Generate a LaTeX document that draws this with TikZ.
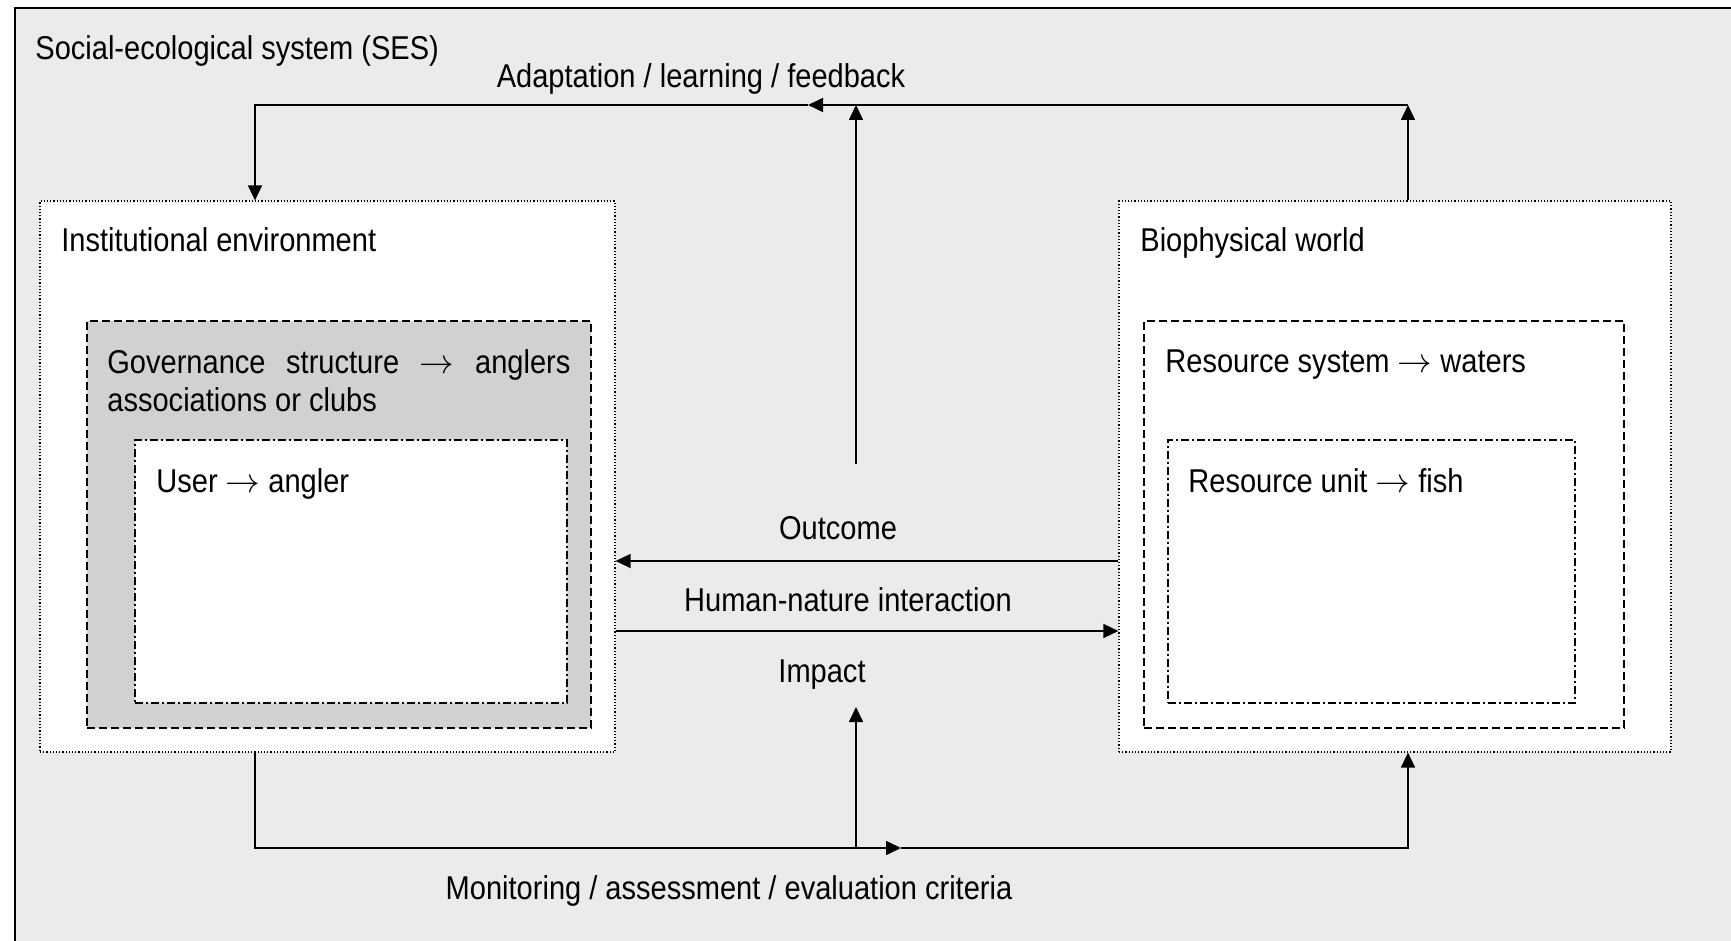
\documentclass[tikz,border=0pt]{standalone}
\usepackage{fontspec}
\setmainfont[FakeStretch=0.88]{Liberation Sans}
\usetikzlibrary{arrows.meta,fit}
\newcommand{\maps}{$\rightarrow$}
\begin{document}
\begin{tikzpicture}[x=0.5pt,y=-0.5pt,
    lbl/.style={inner sep=0pt,font=\fontsize{16.5}{19.5}\selectfont},
    ln/.style={line width=0.8pt},
    arr/.style={ln,-{Triangle[length=7.5pt,width=7pt]}},
    envbox/.style={draw,fill=white,line width=0.6pt,densely dotted,inner sep=0pt},
    sysbox/.style={draw,fill=white,line width=0.75pt,dash pattern=on 4pt off 2pt,inner sep=0pt},
    unitbox/.style={draw,fill=white,line width=0.75pt,dash pattern=on 4pt off 1.6pt on 0.8pt off 1.6pt,inner sep=0pt}]
\useasboundingbox (0,0) rectangle (1731,941);
\clip (0,0) rectangle (1731,941);
% SES frame
\fill[black!8] (15,8) rectangle (1760,970);
\draw[line width=1pt] (15,970) -- (15,8) -- (1760,8);
% boxes
\node[envbox,fit={(40,201) (615,752)}] (inst) {};
\node[sysbox,fill=black!18,fit={(87,321) (591,728)}] (gov) {};
\node[unitbox,fit={(135,440) (567,703)}] (user) {};
\node[envbox,fit={(1119,201) (1671,752)}] (bio) {};
\node[sysbox,fit={(1144,321) (1624,728)}] (ressys) {};
\node[unitbox,fit={(1168,440) (1575,703)}] (resunit) {};
% labels
\foreach \n/\x/\y/\t in {
    ses/35/60/Social-ecological system (SES),
    instT/61/252/Institutional environment,
    userT/156/492/User \maps{} angler,
    bioT/1140/252/Biophysical world,
    ressysT/1165/372/Resource system \maps{} waters,
    resunitT/1188/492/Resource unit \maps{} fish} {
    \node[lbl,anchor=base west] (\n) at (\x,\y) {\t};
}
\node[lbl,anchor=base west,text width=231.5pt,align=justify] (govT) at (107,373)
    {Governance structure \maps{} anglers \mbox{associations} or clubs};
\node[lbl,anchor=base] (adapt) at (701,88) {Adaptation / learning / feedback};
\node[lbl,anchor=base] (outc) at (838,539) {Outcome};
\node[lbl,anchor=base] (hni) at (848,611) {Human-nature interaction};
\node[lbl,anchor=base] (imp) at (822,682) {Impact};
\node[lbl,anchor=base] (mon) at (729,899) {Monitoring / assessment / evaluation criteria};
% connectors
\coordinate (fbL) at (255,105);
\coordinate (fbM) at (808,105);
\coordinate (fbR) at (1408,105);
\coordinate (rise) at (856,464);
\coordinate (oc) at (0,561);
\coordinate (hn) at (0,631);
\coordinate (mnL) at (255,848);
\coordinate (mnC) at (856,848);
\coordinate (mnM) at (901,848);
\coordinate (mnR) at (1408,848);
\coordinate (impTop) at (856,707);
\draw[arr] (bio.north -| fbR) -- (fbR);
\draw[arr] (fbR) -- (fbM);
\draw[arr] (fbM) -- (fbL) -- (fbL |- inst.north);
\draw[arr] (rise) -- (rise |- fbL);
\draw[arr] (bio.west |- oc) -- (inst.east |- oc);
\draw[arr] (inst.east |- hn) -- (bio.west |- hn);
\draw[arr] (inst.south -| mnL) -- (mnL) -- (mnM);
\draw[arr] (mnM) -- (mnR) -- (bio.south -| mnR);
\draw[arr] (mnC) -- (impTop);
\end{tikzpicture}
\end{document}
